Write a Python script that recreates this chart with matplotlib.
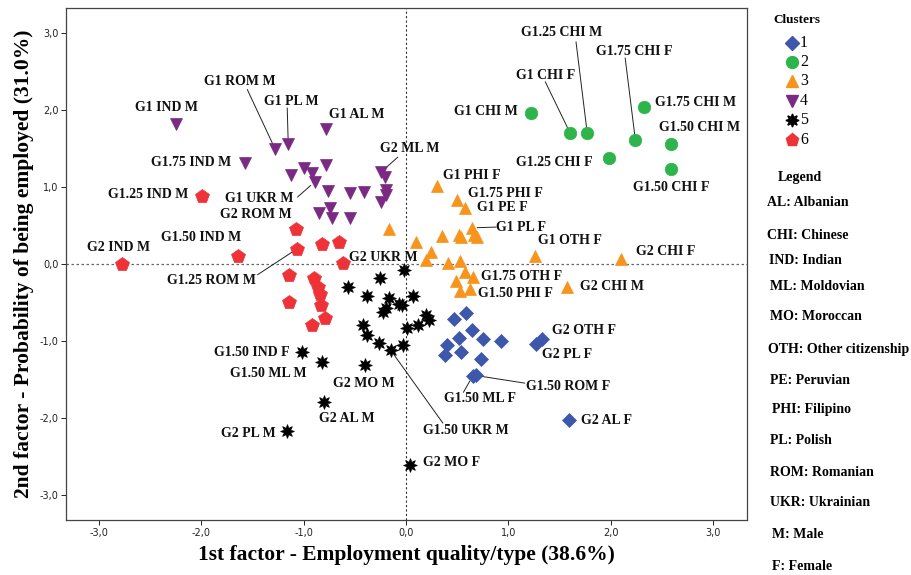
import matplotlib.pyplot as plt
from matplotlib.lines import Line2D
from matplotlib.ticker import FuncFormatter

# ---- data: factor scores per cluster ----
c1_names = ['', '', '', '', '', '', '', '', '', '',
            'G2 OTH F', 'G2 PL F', 'G1.50 ML F', 'G1.50 ROM F', 'G2 AL F']
c1_x = [0.59, 0.47, 0.64, 0.52, 0.75, 0.93, 0.40, 0.38, 0.54, 0.73,
        1.33, 1.27, 0.65, 0.68, 1.59]
c1_y = [-0.64, -0.72, -0.86, -0.96, -0.98, -1.00, -1.06, -1.18, -1.15, -1.24,
        -0.97, -1.04, -1.46, -1.45, -2.03]

c2_names = ['G1 CHI M', 'G1 CHI F', 'G1.25 CHI M', 'G1.75 CHI F',
            'G1.25 CHI F', 'G1.75 CHI M', 'G1.50 CHI M', 'G1.50 CHI F']
c2_x = [1.22, 1.60, 1.77, 2.24, 1.98, 2.32, 2.59, 2.59]
c2_y = [1.97, 1.71, 1.70, 1.61, 1.38, 2.04, 1.56, 1.23]

c3_names = ['G1 PHI F', 'G1.75 PHI F', 'G1 PE F', 'G1 PL F', '', '', '', '',
            '', '', '', '', '', '', 'G1 OTH F', 'G2 CHI F', '', 'G1.75 OTH F',
            '', 'G1.50 PHI F', '', 'G2 CHI M', '']
c3_x = [0.30, 0.50, 0.58, 0.64, 0.66, 0.69, 0.52, 0.54,
        0.35, 0.10, 0.24, 0.195, 0.41, 0.53, 1.26, 2.10, 0.58, 0.65,
        0.49, 0.53, 0.62, 1.57, -0.17]
c3_y = [1.01, 0.83, 0.73, 0.47, 0.38, 0.35, 0.38, 0.35,
        0.36, 0.28, 0.15, 0.05, 0.01, 0.04, 0.10, 0.06, -0.11, -0.165,
        -0.22, -0.35, -0.33, -0.30, 0.45]

c4_names = ['G1 IND M', 'G1 ROM M', 'G1 PL M', 'G1 AL M', 'G1.75 IND M',
            '', '', '', 'G1 UKR M', '', '', '', '', 'G2 ML M', '', '', '', '',
            '', '', '', '']
c4_x = [-2.25, -1.28, -1.15, -0.78, -1.57,
        -1.12, -1.00, -0.92, -0.89, -0.78, -0.76, -0.55, -0.41, -0.24, -0.21,
        -0.20, -0.20, -0.24, -0.85, -0.74, -0.725, -0.55]
c4_y = [1.82, 1.50, 1.56, 1.76, 1.32,
        1.16, 1.25, 1.18, 1.07, 1.29, 0.95, 0.92, 0.94, 1.20, 1.13,
        0.96, 0.90, 0.81, 0.66, 0.725, 0.595, 0.60]

c5_names = ['', '', '', '', '', '', '', '', '', '', '', '', '', '', '', '',
            '', 'G1.50 UKR M', '', 'G1.50 IND F', 'G1.50 ML M', 'G2 MO M',
            'G2 AL M', 'G2 PL M', 'G2 MO F']
c5_x = [-0.02, -0.25, -0.57, -0.38, -0.17, 0.07, -0.07, -0.04, -0.20, -0.22,
        0.20, 0.22, 0.12, 0.01, -0.42, -0.38, -0.26, -0.15, -0.03,
        -1.02, -0.82, -0.40, -0.80, -1.16, 0.04]
c5_y = [-0.08, -0.18, -0.30, -0.41, -0.44, -0.41, -0.52, -0.54, -0.57, -0.63,
        -0.67, -0.73, -0.79, -0.83, -0.80, -0.93, -1.03, -1.12, -1.05,
        -1.15, -1.28, -1.31, -1.80, -2.17, -2.62]

c6_names = ['G1.25 IND M', 'G2 ROM M', '', '', 'G1.25 ROM M', 'G1.50 IND M',
            'G2 IND M', 'G2 UKR M', '', '', '', '', '', '', '', '']
c6_x = [-1.99, -1.07, -0.82, -0.65, -1.06, -1.64, -2.77, -0.62,
        -1.14, -0.90, -0.86, -0.84, -0.83, -1.14, -0.79, -0.92]
c6_y = [0.885, 0.46, 0.26, 0.28, 0.20, 0.10, 0.00, 0.01,
        -0.14, -0.18, -0.295, -0.395, -0.53, -0.50, -0.70, -0.79]

abbrev = ['AL: Albanian', 'CHI: Chinese', 'IND: Indian', 'ML: Moldovian',
          'MO: Moroccan', 'OTH: Other citizenship', 'PE: Peruvian',
          'PHI: Filipino', 'PL: Polish', 'ROM: Romanian', 'UKR: Ukrainian',
          'M: Male', 'F: Female']

clusters = [
    ('1', c1_names, c1_x, c1_y, 'D', '#3d57ab', 7.5),
    ('2', c2_names, c2_x, c2_y, 'o', '#2db44a', 9),
    ('3', c3_names, c3_x, c3_y, '^', '#f7941d', 9),
    ('4', c4_names, c4_x, c4_y, 'v', '#7a2a82', 9),
    ('5', c5_names, c5_x, c5_y, (8, 1, 0), '#000000', 10),
    ('6', c6_names, c6_x, c6_y, 'p', '#ee3338', 10),
]

# label placement (text centre) and optional leader start
label_pos = {
    'G1 ROM M': (-1.62, 2.37), 'G1 PL M': (-1.12, 2.11), 'G1 AL M': (-0.48, 1.94),
    'G1 IND M': (-2.34, 2.03), 'G2 ML M': (0.04, 1.50), 'G1.75 IND M': (-2.10, 1.32),
    'G1.25 IND M': (-2.52, 0.91), 'G1 UKR M': (-1.43, 0.85), 'G2 ROM M': (-1.47, 0.65),
    'G1.50 IND M': (-2.00, 0.35), 'G2 IND M': (-2.81, 0.22), 'G2 UKR M': (-0.22, 0.09),
    'G1.25 ROM M': (-1.90, -0.22), 'G1.50 IND F': (-1.51, -1.15),
    'G1.50 ML M': (-1.34, -1.42), 'G2 MO M': (-0.41, -1.55), 'G2 AL M': (-0.58, -2.01),
    'G2 PL M': (-1.54, -2.20), 'G1.50 UKR M': (0.585, -2.17), 'G2 MO F': (0.44, -2.58),
    'G1.75 OTH F': (1.13, -0.16), 'G1.50 PHI F': (1.07, -0.38), 'G2 CHI M': (2.01, -0.29),
    'G2 OTH F': (1.74, -0.86), 'G2 PL F': (1.57, -1.18), 'G1.50 ROM F': (1.58, -1.59),
    'G1.50 ML F': (0.72, -1.745), 'G2 AL F': (1.96, -2.03),
    'G1.25 CHI M': (1.52, 3.01), 'G1.75 CHI F': (2.23, 2.77), 'G1 CHI F': (1.36, 2.45),
    'G1 CHI M': (0.78, 1.98), 'G1.75 CHI M': (2.83, 2.10), 'G1.50 CHI M': (2.87, 1.77),
    'G1.25 CHI F': (1.45, 1.32), 'G1.50 CHI F': (2.59, 1.00), 'G1 PHI F': (0.64, 1.15),
    'G1.75 PHI F': (0.97, 0.92), 'G1 PE F': (0.94, 0.74), 'G1 PL F': (1.12, 0.47),
    'G1 OTH F': (1.60, 0.31), 'G2 CHI F': (2.54, 0.16),
}
leader_start = {
    'G1 ROM M': (-1.55, 2.27), 'G1 PL M': (-1.16, 2.03), 'G2 ML M': (-0.08, 1.39),
    'G1 UKR M': (-1.06, 0.87), 'G1.25 ROM M': (-1.45, -0.14),
    'G1.50 UKR M': (0.36, -2.07), 'G1.50 ROM F': (1.16, -1.55),
    'G1.50 ML F': (0.56, -1.67), 'G1.25 CHI M': (1.66, 2.89),
    'G1.75 CHI F': (2.14, 2.68), 'G1 CHI F': (1.36, 2.37), 'G1 PL F': (0.88, 0.48),
}

serif = 'Liberation Serif'

fig = plt.figure(figsize=(9.12, 5.75), dpi=100)
ax = fig.add_axes([0.0724, 0.0957, 0.7467, 0.8904])

ax.axvline(0, color='#333333', lw=0.8, ls=(0, (2, 2)), zorder=1)
ax.axhline(0, color='#666666', lw=0.9, ls=(0, (2, 2)), zorder=1)

for cid, names, xs, ys, mk, col, ms in clusters:
    ax.plot(xs, ys, ls='none', marker=mk, color=col, markersize=ms,
            markeredgecolor=col, markeredgewidth=0.5, zorder=3)
    for n, x, y in zip(names, xs, ys):
        if not n:
            continue
        tx, ty = label_pos[n]
        ax.text(tx, ty, n, ha='center', va='center', fontsize=10,
                fontweight='bold', family=serif, color='#111111', zorder=4)
        if n in leader_start:
            ax.annotate('', xy=(x, y), xytext=leader_start[n],
                        arrowprops=dict(arrowstyle='-', lw=0.7, color='#222222',
                                        shrinkA=0, shrinkB=4), zorder=2)

ax.set_xlim(-3.32, 3.33)
ax.set_ylim(-3.33, 3.33)
ax.set_xticks([-3, -2, -1, 0, 1, 2, 3])
ax.set_yticks([-3, -2, -1, 0, 1, 2, 3])
fmt = FuncFormatter(lambda v, p: f'{v:.1f}'.replace('.', ','))
ax.xaxis.set_major_formatter(fmt)
ax.yaxis.set_major_formatter(fmt)
ax.tick_params(direction='out', length=3.5, width=0.7, labelsize=7, pad=2,
               colors='#222222')
for s in ax.spines.values():
    s.set_color('#444444')
    s.set_linewidth(0.9)

ax.set_xlabel('1st factor - Employment quality/type (38.6%)', fontsize=15.5,
              fontweight='bold', family=serif, labelpad=5)
ax.set_ylabel('2nd factor - Probability of being employed (31.0%)', fontsize=15.5,
              fontweight='bold', family=serif, labelpad=4)

# cluster key
W, H = 912.0, 575.0
fig.text(773 / W, 1 - 20 / H, 'Clusters', fontsize=9.5, fontweight='bold',
         family=serif, va='center')
key_y = [43, 62, 81, 101, 120, 140]
for (cid, names, xs, ys, mk, col, ms), ky in zip(clusters, key_y):
    fig.add_artist(Line2D([792 / W], [1 - ky / H], marker=mk, color=col,
                          markersize=ms * 0.95, ls='none',
                          markeredgecolor=col, transform=fig.transFigure))
    fig.text(800 / W, 1 - ky / H, cid, fontsize=11.5, family=serif, va='center')

fig.text(778 / W, 1 - 178 / H, 'Legend', fontsize=10, fontweight='bold',
         family=serif, va='center')
abbr_y = [203, 235, 260, 286, 317, 349, 380, 410, 440, 472, 503, 535, 566]
abbr_x = [767, 767, 769, 770, 770, 768, 770, 772, 770, 770, 770, 772, 772]
for t, ax_, ay in zip(abbrev, abbr_x, abbr_y):
    fig.text(ax_ / W, 1 - ay / H, t, fontsize=10, fontweight='bold',
             family=serif, va='center')

fig.savefig('out.png', dpi=100)
